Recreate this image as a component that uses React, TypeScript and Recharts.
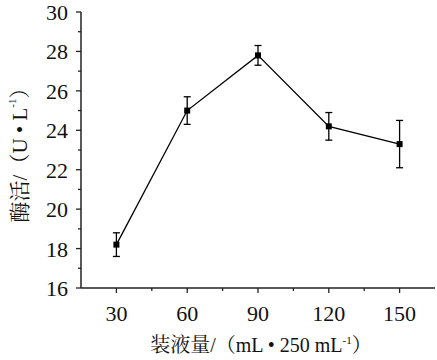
import React from "react";
import { LineChart, Line, XAxis, YAxis, ErrorBar, Label } from "recharts";

const volumes = [30, 60, 90, 120, 150];
const activity = [18.2, 25.0, 27.8, 24.2, 23.3];
const activityErr = [0.6, 0.7, 0.5, 0.7, 1.2];

const xTicks = [30, 45, 60, 75, 90, 105, 120, 135, 150];
const yTicks = [16, 17, 18, 19, 20, 21, 22, 23, 24, 25, 26, 27, 28, 29, 30];

const data = volumes.map((v, i) => ({ vol: v, act: activity[i], err: activityErr[i] }));

const font = "'Liberation Serif', 'Times New Roman', 'Noto Serif CJK SC', 'Noto Sans CJK SC', serif";
const axisColor = "#222";

const YTick = (props: any) => {
  const { x, y, payload } = props;
  const v = payload.value;
  const major = v % 2 === 0;
  return (
    <g>
      <line x1={x} x2={x - (major ? 5 : 3)} y1={y} y2={y} stroke={axisColor} strokeWidth={1.3} />
      {major && (
        <text x={x - 13} y={y + 8} textAnchor="end" fontSize={22} fontFamily={font} fill="#111">
          {v}
        </text>
      )}
    </g>
  );
};

const XTick = (props: any) => {
  const { x, y, payload } = props;
  const v = payload.value;
  const major = v % 30 === 0;
  return (
    <g>
      <line x1={x} x2={x} y1={y} y2={y + (major ? 5 : 3)} stroke={axisColor} strokeWidth={1.3} />
      {major && (
        <text x={x} y={y + 33} textAnchor="middle" fontSize={22} fontFamily={font} fill="#111">
          {v}
        </text>
      )}
    </g>
  );
};

const SquareDot = (props: any) => {
  const { cx, cy } = props;
  if (cx == null || cy == null) return null;
  return <rect x={cx - 3} y={cy - 3} width={6} height={6} fill="#000" />;
};

const YTitle = () => (
  <text
    x={20}
    y={150}
    transform="rotate(-90 20 150)"
    textAnchor="middle"
    dominantBaseline="central"
    fontSize={21}
    fontFamily={font}
    fill="#111"
  >
    酶活/（U • L<tspan dy={-8} fontSize={11}>-1</tspan>
    <tspan dy={8}>）</tspan>
  </text>
);

const XTitle = () => (
  <text x={261} y={352} textAnchor="middle" fontSize={20} fontFamily={font} fill="#111">
    装液量/（mL • 250 mL<tspan dy={-8} fontSize={11}>-1</tspan>
    <tspan dy={8}>）</tspan>
  </text>
);

export default function App() {
  return (
    <div style={{ position: "absolute", left: 0, top: 0, background: "#fff" }}>
      <LineChart width={437} height={360} data={data} margin={{ top: 12, right: 2, bottom: 0, left: 0 }}>
        <XAxis
          dataKey="vol"
          type="number"
          domain={[15, 165]}
          ticks={xTicks}
          interval={0}
          tickSize={0}
          tickMargin={0}
          tickLine={false}
          tick={<XTick />}
          height={72}
          stroke={axisColor}
          strokeWidth={1.5}
        >
          <Label content={<XTitle />} />
        </XAxis>
        <YAxis
          type="number"
          domain={[16, 30]}
          ticks={yTicks}
          interval={0}
          tickSize={0}
          tickMargin={0}
          tickLine={false}
          tick={<YTick />}
          width={81}
          stroke={axisColor}
          strokeWidth={1.5}
        >
          <Label content={<YTitle />} />
        </YAxis>
        <Line
          dataKey="act"
          stroke="#000"
          strokeWidth={1.3}
          dot={<SquareDot />}
          activeDot={false}
          isAnimationActive={false}
        >
          <ErrorBar dataKey="err" direction="y" width={3.5} stroke="#000" strokeWidth={1.3} />
        </Line>
      </LineChart>
    </div>
  );
}
